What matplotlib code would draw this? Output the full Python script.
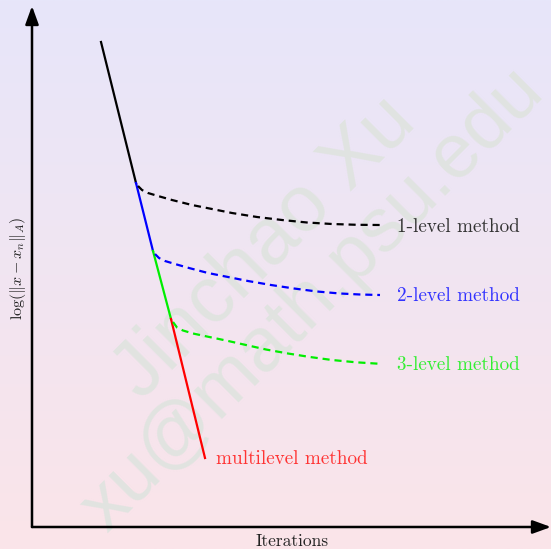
import numpy as np
import matplotlib.pyplot as plt
from matplotlib.colors import LinearSegmentedColormap

# Sketch of error decay: log(||x - x_n||_A) against iteration count
# (units are arbitrary, origin at the corner of the two axes)

# multilevel iteration: solid segments, one colour per phase
solid_x = [69, 104, 121, 139, 173]
solid_y = [485, 344, 276, 208, 69]
solid_colors = ['black', 'blue', '#00ee00', 'red']

# stalled 1/2/3-level methods (dashed tails)
tail1_x = [106, 110, 116, 126, 140, 160, 180, 200, 225, 250, 275, 300, 325, 348]
tail1_y = [341, 337, 334, 331, 327, 322, 318, 314, 310, 307, 304.5, 303, 302.2, 302]
tail2_x = [123, 127, 133, 143, 157, 176, 196, 216, 239, 262, 285, 308, 328, 348]
tail2_y = [273, 269, 266, 263, 259, 254, 250, 246, 242, 238.5, 235.5, 233.5, 232.5, 232]
tail3_x = [141, 145, 151, 161, 175, 194, 214, 234, 256, 278, 300, 324, 348]
tail3_y = [205, 199.5, 196.5, 193.5, 190.5, 186.5, 182, 177.5, 173.5, 170, 167, 164.7, 163.2]

labels = ['1-level method', '2-level method', '3-level method', 'multilevel method']
label_colors = ['#333333', '#3333ff', '#33ee33', '#ff3333']
label_x = [365, 365, 365, 184]
label_y = [300, 231, 162, 68]

plt.rcParams['font.family'] = 'cmr10'
plt.rcParams['mathtext.fontset'] = 'cm'
plt.rcParams['axes.unicode_minus'] = False

fig = plt.figure(figsize=(5.51, 5.49), dpi=100)
ax = fig.add_axes([0, 0, 1, 1])
ax.set_xlim(-32, 519)
ax.set_ylim(-22, 527)
ax.axis('off')

# background gradient, lavender on top to pink at the bottom
cmap = LinearSegmentedColormap.from_list('bg', ['#fbe4e9', '#e7e6fa'])
grad = np.linspace(0, 1, 256).reshape(-1, 1)
ax.imshow(grad, cmap=cmap, aspect='auto', origin='lower',
          extent=[-32, 519, -22, 527], zorder=0)

# watermark
wm = dict(family='Liberation Sans', color='#dfe3df', rotation=45,
          ha='center', va='center', zorder=1, alpha=0.9)
ax.text(233, 279, 'Jinchao Xu', fontsize=57, **wm)
ax.text(281, 227, 'xu@math.psu.edu', fontsize=55, **wm)

# axes with arrow heads
ax.annotate('', xy=(0, 521), xytext=(0, 0),
            arrowprops=dict(arrowstyle='-|>,head_length=1.1,head_width=0.4',
                            lw=1.8, color='black', shrinkA=0, shrinkB=0), zorder=5)
ax.annotate('', xy=(519, 0), xytext=(0, 0),
            arrowprops=dict(arrowstyle='-|>,head_length=1.1,head_width=0.4',
                            lw=1.8, color='black', shrinkA=0, shrinkB=0), zorder=5)

for i, c in enumerate(solid_colors):
    ax.plot(solid_x[i:i + 2], solid_y[i:i + 2], color=c, lw=1.6, zorder=4)

for tx, ty, c in [(tail1_x, tail1_y, 'black'), (tail2_x, tail2_y, 'blue'),
                  (tail3_x, tail3_y, '#00ee00')]:
    ax.plot(tx, ty, color=c, lw=1.6, ls=(0, (3.2, 2.2)), zorder=4)

for lab, c, x, y in zip(labels, label_colors, label_x, label_y):
    ax.text(x, y, lab, color=c, fontsize=13.8, ha='left', va='center', zorder=6)

ax.text(260, -14, 'Iterations', fontsize=12.5, color='#222222',
        ha='center', va='center')
ax.text(-14, 259, r'$\log(\|x-x_n\|_A)$', fontsize=11.5, rotation=90,
        ha='center', va='center', color='#222222')

fig.savefig('out.png', dpi=100)
